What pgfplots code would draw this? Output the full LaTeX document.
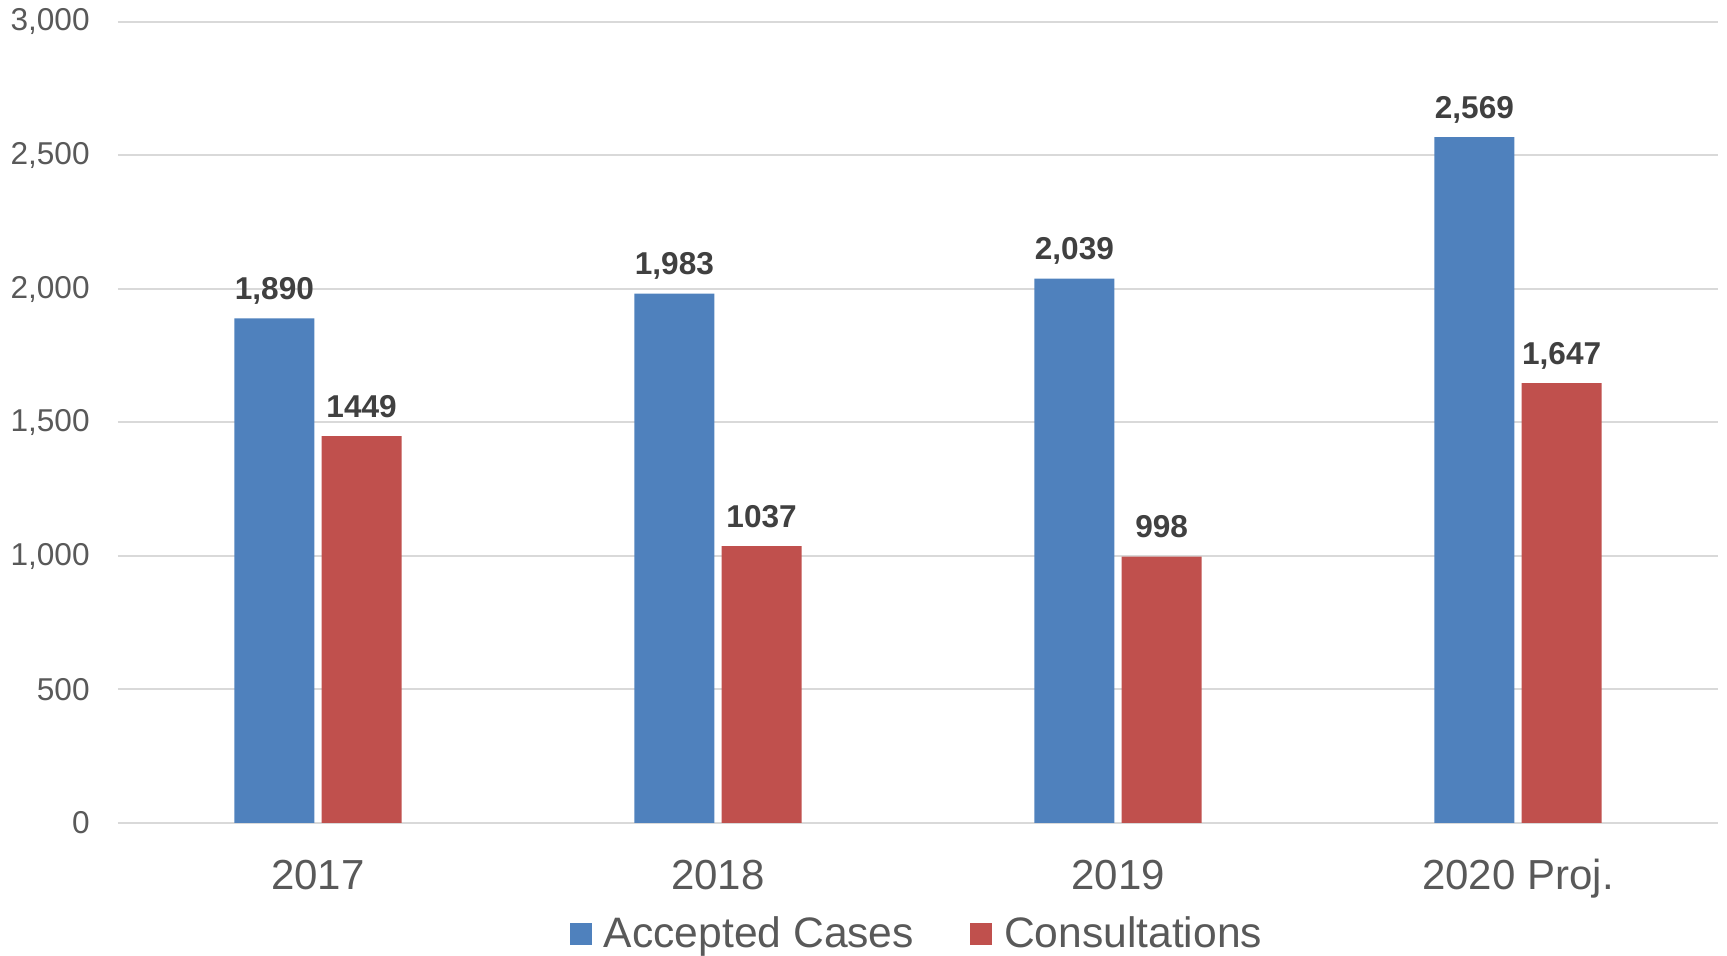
\documentclass[border=0pt]{standalone}
\usepackage{pgfplots}
\pgfplotsset{compat=1.18}
\usepackage{pgfplotstable}
\usepackage{fontspec}
\setmainfont{Liberation Sans}
\definecolor{cblue}{HTML}{4F81BD}
\definecolor{cred}{HTML}{C0504D}
\definecolor{tgray}{HTML}{595959}
\definecolor{lgray}{HTML}{404040}
\definecolor{gridc}{HTML}{D9D9D9}

\pgfplotstableread{
x y label
0 1890 1,890
1 1983 1,983
2 2039 2,039
3 2569 2,569
}\accepted
\pgfplotstableread{
x y label
0 1449 1449
1 1037 1037
2 998 998
3 1647 1,647
}\consult

\begin{document}
\begin{tikzpicture}
\useasboundingbox (-59pt,-66.5pt) rectangle (804.5pt,411.5pt);
\begin{axis}[
  at={(0,0)}, anchor=south west,
  scale only axis, width=800pt, height=400.5pt,
  xmin=-0.5, xmax=3.5, ymin=0, ymax=3000,
  ytick={0,500,...,3000},
  xtick={0,1,2,3}, xticklabels={2017,2018,2019,2020 Proj.},
  ymajorgrids, grid style={draw=gridc, line width=1pt},
  axis line style={draw=none},
  major tick length=0pt,
  /pgf/number format/.cd, 1000 sep={,}, assume math mode=true,
  /pgfplots/.cd,
  yticklabel style={font=\fontsize{15.8}{18}\selectfont, text=tgray, anchor=east, inner sep=0pt, xshift=-14pt},
  xticklabel style={font=\fontsize{21}{25}\selectfont, text=tgray, anchor=base, inner sep=0pt, yshift=-33.5pt},
  ybar, bar width=0.2,
  legend columns=2,
  legend style={at={(0.5,0)}, anchor=center, yshift=-55.5pt, draw=none, fill=none,
    font=\fontsize{21.3}{25}\selectfont, text=tgray,
    /tikz/every odd column/.append style={column sep=4pt},
    /tikz/every even column/.append style={column sep=26pt}},
  legend image code/.code={\fill[#1] (0pt,-5.5pt) rectangle (11pt,5.5pt);},
  nodes near coords,
  point meta=explicit symbolic,
  every node near coord/.append style={font=\bfseries\fontsize{15.8}{18}\selectfont, text=lgray, anchor=base, inner sep=0pt, yshift=9.5pt},
]
\addplot[fill=cblue, draw=none, bar shift=-0.109] table[x=x, y=y, meta=label] {\accepted};
\addplot[fill=cred, draw=none, bar shift=0.109] table[x=x, y=y, meta=label] {\consult};
\legend{Accepted Cases, Consultations}
\end{axis}
\end{tikzpicture}
\end{document}
